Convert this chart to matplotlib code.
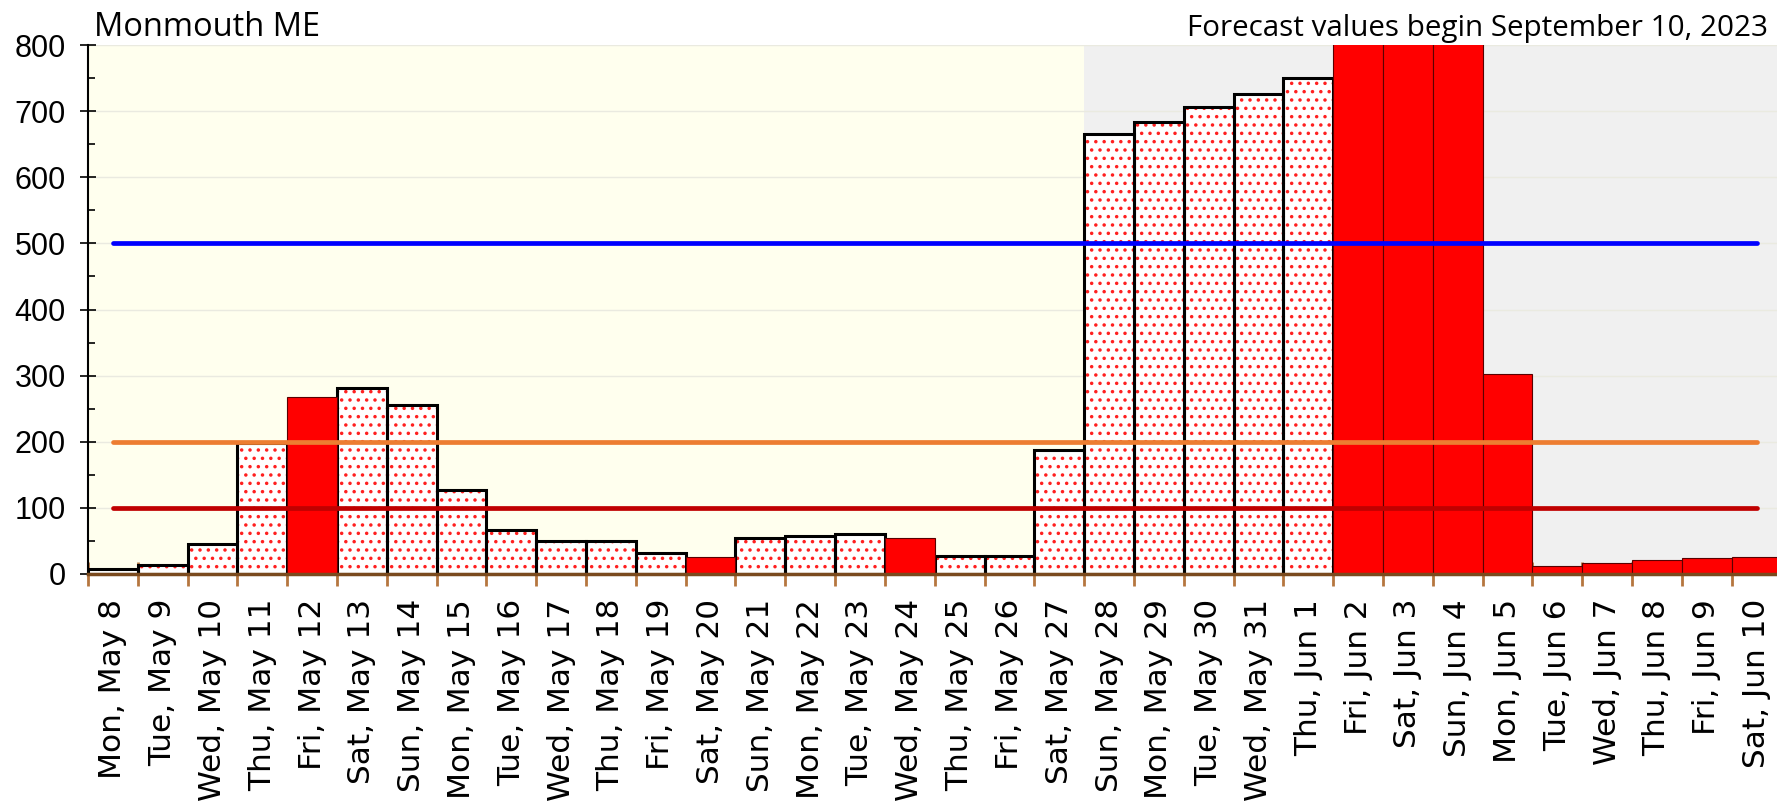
import numpy as np
import matplotlib
matplotlib.use("Agg")
import matplotlib.pyplot as plt

# daily values, May 8 .. Jun 10
days = ["Mon, May 8", "Tue, May 9", "Wed, May 10", "Thu, May 11", "Fri, May 12",
        "Sat, May 13", "Sun, May 14", "Mon, May 15", "Tue, May 16", "Wed, May 17",
        "Thu, May 18", "Fri, May 19", "Sat, May 20", "Sun, May 21", "Mon, May 22",
        "Tue, May 23", "Wed, May 24", "Thu, May 25", "Fri, May 26", "Sat, May 27",
        "Sun, May 28", "Mon, May 29", "Tue, May 30", "Wed, May 31", "Thu, Jun 1",
        "Fri, Jun 2", "Sat, Jun 3", "Sun, Jun 4", "Mon, Jun 5", "Tue, Jun 6",
        "Wed, Jun 7", "Thu, Jun 8", "Fri, Jun 9", "Sat, Jun 10"]
values = [8, 13, 45, 198, 268, 282, 255, 127, 67, 50,
          50, 31, 25, 54, 58, 60, 55, 27, 27, 188,
          665, 684, 706, 726, 750, 900, 900, 900, 303, 12,
          17, 21, 24, 26]
# solid red days (threshold exceeded)
red_days = ["Fri, May 12", "Sat, May 20", "Wed, May 24", "Fri, Jun 2", "Sat, Jun 3",
            "Sun, Jun 4", "Mon, Jun 5", "Tue, Jun 6", "Wed, Jun 7", "Thu, Jun 8",
            "Fri, Jun 9", "Sat, Jun 10"]
forecast_start = "Sun, May 28"
levels = [500, 200, 100]
level_colors = ["#0000FF", "#ED7D31", "#C00000"]

plt.rcParams['hatch.linewidth'] = 1.3

fig = plt.figure(figsize=(17.77, 8.01), dpi=100)
ax = fig.add_axes([0.0495, 0.2834, 0.953, 0.6604])

n = len(days)
x = np.arange(n)
fc = days.index(forecast_start)

# backgrounds
ax.axvspan(0, fc, color="#FFFFEE", zorder=0, lw=0)
ax.axvspan(fc, n, color="#F0F0F0", zorder=0, lw=0)
for yy in range(100, 801, 100):
    ax.axhline(yy, color="#EAEAE0", lw=1, zorder=0.5)

is_red = np.array([d in red_days for d in days])
vals = np.array(values)

# dotted bars
ax.bar(x[~is_red], vals[~is_red], width=1, align="edge", color="white",
       hatch="..", edgecolor="#FF2020", lw=0, zorder=2)
ax.bar(x[~is_red], vals[~is_red], width=1, align="edge", fill=False,
       edgecolor="black", lw=2.2, zorder=3)
# solid red bars
ax.bar(x[is_red], vals[is_red], width=1, align="edge", color="#FF0000",
       edgecolor="#5a0000", lw=0.8, zorder=3)

for lv, c in zip(levels, level_colors):
    ax.plot([0.5, n - 0.5], [lv, lv], color=c, lw=3.4, zorder=4,
            solid_capstyle="round")

ax.set_xlim(0, n)
ax.set_ylim(0, 800)

ax.set_xticks(np.arange(n + 1))
ax.set_xticklabels([])
ax.set_xticks(x + 0.5, minor=True)
ax.set_xticklabels(days, minor=True, rotation=90, family="DejaVu Sans", fontsize=22.5)
ax.tick_params(axis="x", which="major", direction="inout", length=17, width=2,
               color="#B5763F")
ax.tick_params(axis="x", which="minor", length=0, pad=18)

ax.set_yticks(range(0, 801, 100))
ax.set_yticks(range(50, 800, 100), minor=True)
ax.tick_params(axis="y", which="major", direction="inout", length=12, width=1.2,
               labelsize=22, pad=10)
ax.tick_params(axis="y", which="minor", direction="in", length=5, width=1.2)
for lab in ax.get_yticklabels():
    lab.set_family("Liberation Sans")

for s in ["top", "right"]:
    ax.spines[s].set_visible(False)
ax.spines["left"].set_linewidth(1.5)
ax.spines["bottom"].set_color("#7A4A1E")
ax.spines["bottom"].set_linewidth(2.5)
ax.spines["bottom"].set_zorder(5)

fig.text(0.053, 0.955, "Monmouth ME", family="Open Sans", fontsize=23.5,
         ha="left", va="baseline")
fig.text(0.995, 0.955, "Forecast values begin September 10, 2023",
         family="Open Sans", fontsize=21.3, ha="right", va="baseline")

fig.savefig("out.png", dpi=100)
